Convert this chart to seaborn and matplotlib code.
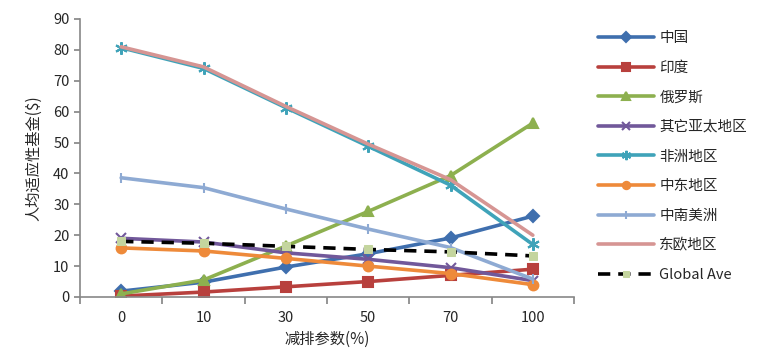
import matplotlib
matplotlib.use('Agg')
import matplotlib.pyplot as plt
import seaborn as sns
import pandas as pd

# x categories (reduction parameter, %)
x_labels = ['0', '10', '30', '50', '70', '100']

china = [1.9, 4.8, 9.7, 14.0, 19.1, 26.2]
india = [0.3, 1.6, 3.3, 5.0, 7.0, 9.0]
russia = [1.0, 5.5, 16.5, 27.7, 39.3, 56.3]
other_ap = [19.0, 17.8, 14.3, 12.2, 9.5, 5.3]
africa = [80.7, 74.0, 61.3, 48.8, 36.2, 17.0]
mideast = [15.9, 14.9, 12.5, 10.0, 7.6, 4.0]
latam = [38.6, 35.4, 28.5, 22.0, 16.0, 5.8]
east_eu = [81.0, 74.5, 61.7, 49.5, 38.0, 20.0]
global_ave = [18.0, 17.4, 16.4, 15.4, 14.6, 13.3]

series = [
    ('中国', china, '#3F6FAE', 'D', 6.5),
    ('印度', india, '#B8403D', 's', 7),
    ('俄罗斯', russia, '#8DB04F', '^', 7),
    ('其它亚太地区', other_ap, '#71589A', 'x', 7),
    ('非洲地区', africa, '#3FA3B9', (6, 2, 0), 9),
    ('中东地区', mideast, '#EE8A3A', 'o', 7),
    ('中南美洲', latam, '#8EAAD3', '|', 7),
    ('东欧地区', east_eu, '#D69593', None, 0),
]

sns.set_theme(style='white')
plt.rcParams['font.family'] = ['Noto Sans CJK SC', 'DejaVu Sans']

fig = plt.figure(figsize=(7.72, 3.56), dpi=100)
ax = fig.add_axes([80 / 772, 1 - 297 / 356, 494 / 772, 278 / 356])

pos = list(range(len(x_labels)))
for name, vals, color, mk, ms in series:
    df = pd.DataFrame({'x': pos, 'y': vals})
    kw = dict(marker=mk, markersize=ms, markeredgewidth=1.5,
              markerfacecolor=color, markeredgecolor=color) if mk else dict(marker=None)
    sns.lineplot(data=df, x='x', y='y', ax=ax, color=color, linewidth=2.6,
                 label=name, **kw)

df = pd.DataFrame({'x': pos, 'y': global_ave})
sns.lineplot(data=df, x='x', y='y', ax=ax, color='black', linewidth=2.6,
             linestyle=(0, (3.4, 2.2)), marker='s', markersize=5.5,
             markerfacecolor='#C4D59E', markeredgecolor='#C4D59E',
             label='Global Ave')

ax.set_xlim(-0.5, 5.5)
ax.set_ylim(0, 90)
ax.set_yticks(range(0, 91, 10))
ax.set_xticks([p - 0.5 for p in pos] + [5.5], minor=False)
ax.set_xticklabels([''] * 7)
ax.set_xticks(pos, minor=True)
ax.set_xticklabels(x_labels, minor=True)
ax.tick_params(axis='x', which='minor', length=0, pad=10, labelsize=10.5)
ax.tick_params(axis='x', which='major', direction='out', length=5, color='#888888')
ax.tick_params(axis='y', direction='out', length=4, color='#888888', labelsize=10.5)
ax.tick_params(axis='both', which='both', bottom=True, left=True)

for s in ['top', 'right']:
    ax.spines[s].set_visible(False)
for s in ['left', 'bottom']:
    ax.spines[s].set_color('#888888')
    ax.spines[s].set_linewidth(1.2)

ax.set_xlabel('减排参数(%)', fontsize=11, labelpad=4)
ax.set_ylabel('人均适应性基金($)', fontsize=11, labelpad=8)

ax.legend(loc='upper left', bbox_to_anchor=(585 / 772, 1 - 18 / 356),
          bbox_transform=fig.transFigure, frameon=False, fontsize=10.5,
          handlelength=3.8, labelspacing=1.07, handletextpad=0.4,
          markerscale=0.75)

fig.savefig('out.png', dpi=100)
